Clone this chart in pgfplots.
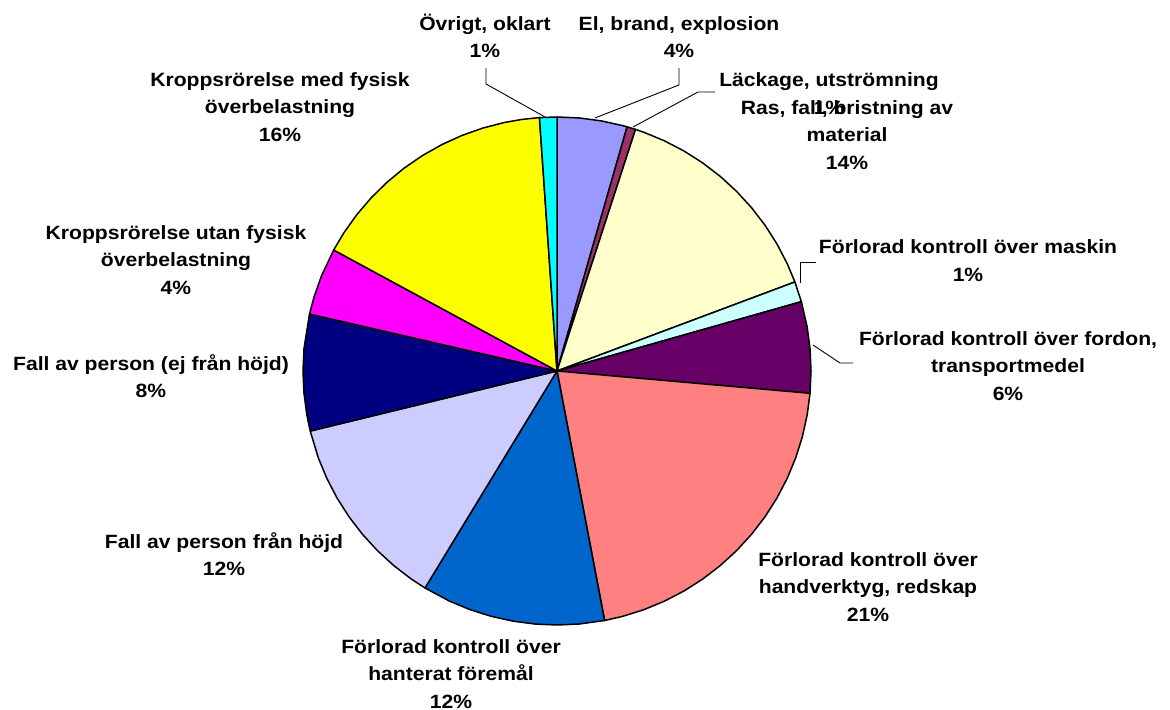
\documentclass[border=0pt]{standalone}
\usepackage{pgfplots}
\pgfplotsset{compat=1.18}
\usepackage{fontspec}
\setmainfont[FakeStretch=1.1]{Liberation Sans}
\definecolor{cEl}{HTML}{9999FF}
\definecolor{cLack}{HTML}{993366}
\definecolor{cRas}{HTML}{FFFFCC}
\definecolor{cMask}{HTML}{CCFFFF}
\definecolor{cFord}{HTML}{660066}
\definecolor{cHand}{HTML}{FF8080}
\definecolor{cHant}{HTML}{0066CC}
\definecolor{cHojd}{HTML}{CCCCFF}
\definecolor{cEj}{HTML}{000080}
\definecolor{cUtan}{HTML}{FF00FF}
\definecolor{cMed}{HTML}{FFFF00}
\definecolor{cOvr}{HTML}{00FFFF}
\tikzset{lbl/.style={font=\fontsize{9.6}{13.7}\selectfont\bfseries,align=center,inner sep=0pt}}
% Shares (%): El 4.45, Lackage 0.55, Ras 14.3, Maskin 1.3, Fordon 5.8,
% Handverktyg 20.6, Hanterat 11.7, Fall hojd 12.5, Fall ej 7.4,
% Utan 4.3, Med 16.0, Ovrigt 1.1  -> slice edges at 90 - 3.6*cumulative
\begin{document}
\begin{tikzpicture}
\begin{axis}[width=585pt,height=355pt,scale only axis,hide axis,
  xmin=-557,xmax=613,ymin=-339,ymax=371,clip=false,
  slice/.style={draw=black,line width=0.75pt,line join=round,data cs=polar},
  lead/.style={draw=black,line width=0.45pt,data cs=cart}]
\path (axis cs:-557,-339) rectangle (axis cs:613,371);
\addplot[slice,fill=cEl] coordinates {(0,0) (90,254) (85,254) (80,254) (75,254) (73.98,254) (0,0)} -- cycle;
\addplot[slice,fill=cLack] coordinates {(0,0) (73.98,254) (72,254) (0,0)} -- cycle;
\addplot[slice,fill=cRas] coordinates {(0,0) (72,254) (70,254) (65,254) (60,254) (55,254) (50,254) (45,254) (40,254) (35,254) (30,254) (25,254) (20.52,254) (0,0)} -- cycle;
\addplot[slice,fill=cMask] coordinates {(0,0) (20.52,254) (15.84,254) (0,0)} -- cycle;
\addplot[slice,fill=cFord] coordinates {(0,0) (15.84,254) (10,254) (5,254) (0,254) (-5.04,254) (0,0)} -- cycle;
\addplot[slice,fill=cHand] coordinates {(0,0) (-5.04,254) (-10,254) (-15,254) (-20,254) (-25,254) (-30,254) (-35,254) (-40,254) (-45,254) (-50,254) (-55,254) (-60,254) (-65,254) (-70,254) (-75,254) (-79.2,254) (0,0)} -- cycle;
\addplot[slice,fill=cHant] coordinates {(0,0) (-79.2,254) (-85,254) (-90,254) (-95,254) (-100,254) (-105,254) (-110,254) (-115,254) (-121.32,254) (0,0)} -- cycle;
\addplot[slice,fill=cHojd] coordinates {(0,0) (-121.32,254) (-125,254) (-130,254) (-135,254) (-140,254) (-145,254) (-150,254) (-155,254) (-160,254) (-166.32,254) (0,0)} -- cycle;
\addplot[slice,fill=cEj] coordinates {(0,0) (-166.32,254) (-170,254) (-175,254) (-180,254) (-185,254) (-192.96,254) (0,0)} -- cycle;
\addplot[slice,fill=cUtan] coordinates {(0,0) (-192.96,254) (-197,254) (-202,254) (-208.44,254) (0,0)} -- cycle;
\addplot[slice,fill=cMed] coordinates {(0,0) (-208.44,254) (-213,254) (-218,254) (-223,254) (-228,254) (-233,254) (-238,254) (-243,254) (-248,254) (-253,254) (-258,254) (-262,254) (-266.04,254) (0,0)} -- cycle;
\addplot[slice,fill=cOvr] coordinates {(0,0) (-266.04,254) (-270,254) (0,0)} -- cycle;
% leader lines
\addplot[lead] coordinates {(-71,303) (-71,287) (-12,254)};
\addplot[lead] coordinates {(122,303) (122,286) (38,253)};
\addplot[lead] coordinates {(158,279) (141,279) (76,244)};
\addplot[lead] coordinates {(259,109) (243,109) (243,88)};
\addplot[lead] coordinates {(256,26) (283,8) (296,8)};
% labels
\node[lbl] at (axis cs:-72,335) {Övrigt, oklart\\1\%};
\node[lbl] at (axis cs:122,334) {El, brand, explosion\\4\%};
\node[lbl] at (axis cs:272,277.5) {Läckage, utströmning\\1\%};
\node[lbl] at (axis cs:290,236) {Ras, fall, bristning av\\material\\14\%};
\node[lbl] at (axis cs:411,110.5) {Förlorad kontroll över maskin\\1\%};
\node[lbl] at (axis cs:451,5) {Förlorad kontroll över fordon,\\transportmedel\\6\%};
\node[lbl] at (axis cs:311,-216) {Förlorad kontroll över\\handverktyg, redskap\\21\%};
\node[lbl] at (axis cs:-106,-303) {Förlorad kontroll över\\hanterat föremål\\12\%};
\node[lbl] at (axis cs:-333,-183) {Fall av person från höjd\\12\%};
\node[lbl] at (axis cs:-406,-5.5) {Fall av person (ej från höjd)\\8\%};
\node[lbl] at (axis cs:-381,111) {Kroppsrörelse utan fysisk\\överbelastning\\4\%};
\node[lbl] at (axis cs:-277,264) {Kroppsrörelse med fysisk\\överbelastning\\16\%};
\end{axis}
\end{tikzpicture}
\end{document}
